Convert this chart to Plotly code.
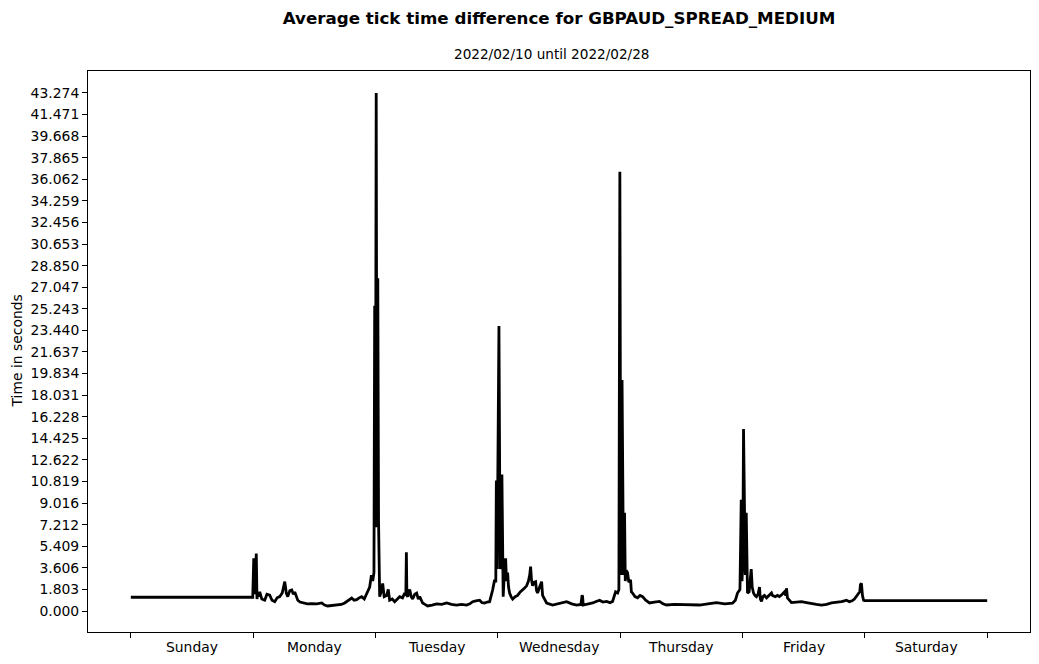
import plotly.graph_objects as go

# Hours since start of week (Sunday 00:00) and average tick time difference (seconds)
hours = [
    0.0, 23.92,
    24.0, 24.12, 24.22, 24.4, 24.61, 24.75, 24.90, 25.1, 25.29, 25.7, 26.27, 26.7, 27.25, 27.7,
    28.24, 28.7, 29.22, 29.7, 30.20, 30.5, 30.78, 31.2, 31.57, 31.9, 32.16, 32.75, 33.2, 33.73,
    34.6, 35.49, 36.5, 37.45, 38.0, 38.63, 39.6, 40.59, 41.3, 41.96, 42.7, 43.33, 43.8, 44.31,
    44.8, 45.29, 45.8, 46.27, 46.86, 47.2, 47.45, 47.7,
    47.84, 47.98, 48.14, 48.29, 48.45, 48.60, 48.69, 48.82,
    49.1, 49.41, 49.7, 50.20, 50.5, 50.78, 51.3, 51.76, 52.3, 52.75, 53.3, 53.73, 53.95, 54.06,
    54.16, 54.31, 54.71, 55.0, 55.29, 55.7, 56.08, 56.4, 56.67, 57.25, 57.7, 58.24, 59.1, 60.0,
    61.0, 61.96, 62.9, 63.92, 64.9, 65.88, 66.5, 67.06, 67.7, 68.43, 68.9, 69.41, 69.9, 70.39,
    70.98, 71.37,
    71.6, 71.71, 71.86, 72.22, 72.45, 72.62, 72.80, 72.95, 73.05, 73.2, 73.33, 73.43, 73.53,
    73.7, 73.92, 74.1, 74.31, 74.6, 74.90, 75.4, 75.88, 76.4, 76.86, 77.2, 77.65, 78.0, 78.25,
    78.43, 78.6, 78.82, 79.1, 79.41, 79.6, 79.80, 80.2, 80.59, 80.78, 81.2, 81.57, 82.75, 84.0,
    85.49, 86.5, 87.45, 88.3, 88.53, 88.63, 88.75, 89.6, 90.59, 91.3, 91.96, 92.6, 93.33, 94.0,
    94.51, 95.10, 95.5, 95.75,
    95.94, 96.10, 96.20, 96.37, 96.52, 96.65, 96.86, 97.0, 97.2, 97.45, 97.7, 98.04, 98.2, 98.43,
    98.9, 99.41, 99.9, 100.39, 101.0, 101.76, 102.7, 103.73, 104.4, 105.1, 106.6, 108.24, 110.0,
    111.57, 113.2, 114.9, 116.5, 118.04, 118.6, 119.02, 119.5,
    119.75, 119.9, 120.05, 120.20, 120.40, 120.55, 120.73, 120.85, 120.98, 121.3, 121.71, 121.9,
    122.16, 122.45, 122.75, 123.05, 123.33, 123.5, 123.73, 124.0, 124.31, 124.71, 125.2, 125.69,
    125.88, 126.4, 126.86, 127.25, 127.8, 128.24, 128.5, 128.63, 128.82, 129.2, 129.61, 130.6,
    131.57, 132.55, 133.53, 134.5, 135.49, 136.5, 137.45, 138.4, 139.41, 140.0, 140.39, 140.98,
    141.5, 141.96, 142.55, 143.0, 143.14, 143.33, 143.53, 143.75,
    143.92, 168.0,
]
seconds = [
    1.15, 1.15,
    2.5, 4.4, 1.4, 2.2, 4.8, 1.0, 1.6, 1.2, 1.6, 1.0, 0.9, 1.4, 1.33, 0.9,
    0.78, 1.1, 1.2, 1.5, 2.45, 1.5, 1.2, 1.7, 1.75, 1.4, 1.6, 0.9, 0.75, 0.67,
    0.6, 0.62, 0.6, 0.67, 0.5, 0.42, 0.45, 0.5, 0.55, 0.67, 0.9, 1.08, 0.9, 0.95,
    1.1, 1.2, 1.0, 1.5, 2.0, 3.0, 2.5, 3.2,
    25.5, 7.0, 43.274, 7.0, 27.8, 7.5, 1.5, 1.2,
    1.6, 2.3, 1.2, 1.3, 1.8, 0.9, 1.0, 0.78, 1.0, 1.2, 1.1, 1.5, 1.3, 4.9,
    1.3, 1.2, 1.8, 1.2, 1.0, 1.4, 1.5, 1.0, 1.2, 0.67, 0.55, 0.42, 0.5, 0.6,
    0.55, 0.67, 0.55, 0.5, 0.55, 0.5, 0.6, 0.78, 0.85, 0.9, 0.7, 0.67, 0.75, 0.78,
    1.75, 2.6,
    2.4, 10.9, 3.5, 23.8, 3.5, 5.0, 11.4, 2.0, 1.2, 2.5, 3.5, 2.5, 4.4,
    2.5, 3.2, 2.0, 1.5, 1.2, 1.0, 1.2, 1.3, 1.6, 1.75, 1.9, 2.1, 2.5, 3.0,
    3.7, 2.6, 2.1, 2.4, 2.45, 1.7, 1.5, 2.0, 2.45, 1.3, 0.9, 0.67, 0.5, 0.6,
    0.78, 0.6, 0.5, 0.55, 1.33, 1.2, 0.5, 0.55, 0.67, 0.8, 0.9, 0.75, 0.8, 0.7,
    0.8, 1.6, 1.5, 1.8,
    36.7, 6.5, 3.0, 19.3, 6.0, 3.0, 8.2, 2.5, 3.4, 3.2, 2.4, 2.6, 1.6, 1.5,
    1.2, 1.1, 1.3, 1.2, 0.9, 0.67, 0.75, 0.8, 0.6, 0.5, 0.55, 0.55, 0.5,
    0.5, 0.6, 0.7, 0.6, 0.65, 0.9, 1.5, 1.8,
    9.3, 2.5, 4.0, 15.2, 4.0, 3.0, 8.2, 2.0, 1.5, 1.6, 3.5, 2.0,
    1.5, 1.3, 1.2, 1.4, 2.0, 1.0, 0.8, 1.2, 1.3, 1.1, 1.3, 1.5,
    1.3, 1.2, 1.3, 1.2, 1.4, 1.6, 1.3, 1.9, 1.1, 0.9, 0.7, 0.75,
    0.78, 0.7, 0.6, 0.55, 0.5, 0.55, 0.67, 0.7, 0.78, 0.85, 0.9, 0.78,
    0.85, 1.0, 1.3, 1.6, 2.2, 2.3, 1.3, 0.9,
    0.87, 0.87,
]

day_names = ["Sunday", "Monday", "Tuesday", "Wednesday", "Thursday", "Friday", "Saturday"]
day_bounds = [0, 24, 48, 72, 96, 120, 144, 168]
day_centers = [12, 36, 60, 84, 108, 132, 156]
y_ticks = [0.000, 1.803, 3.606, 5.409, 7.212, 9.016, 10.819, 12.622, 14.425, 16.228,
           18.031, 19.834, 21.637, 23.440, 25.243, 27.047, 28.850, 30.653, 32.456,
           34.259, 36.062, 37.865, 39.668, 41.471, 43.274]

title_text = "Average tick time difference for GBPAUD_SPREAD_MEDIUM"
subtitle_text = "2022/02/10 until 2022/02/28"

FONT = "DejaVu Sans"

fig = go.Figure()
fig.add_trace(go.Scatter(
    x=hours, y=seconds, mode="lines",
    line=dict(color="black", width=2.8),
    showlegend=False, hoverinfo="skip",
))

fig.update_layout(
    width=1039, height=664,
    margin=dict(l=88, r=9, t=71, b=32),
    paper_bgcolor="white", plot_bgcolor="white",
    font=dict(family=FONT, size=13.9, color="black"),
    title=dict(text="<b>" + title_text + "</b>", x=0.5, xref="paper",
               y=1 - 18 / 664, yref="container", yanchor="middle",
               font=dict(family=FONT, size=16.7, color="black")),
    xaxis=dict(
        range=[-8.4, 176.4], tickmode="array", tickvals=day_bounds,
        ticktext=[""] * len(day_bounds), ticks="outside", ticklen=5, tickwidth=1,
        tickcolor="black", showgrid=False, zeroline=False,
        showline=True, linecolor="black", linewidth=1, mirror=True,
    ),
    yaxis=dict(
        range=[-1.754, 45.11], tickmode="array", tickvals=y_ticks,
        ticktext=["%.3f" % v for v in y_ticks], ticks="outside", ticklen=5,
        tickwidth=1, tickcolor="black", showgrid=False, zeroline=False,
        showline=True, linecolor="black", linewidth=1, mirror=True,
        tickfont=dict(family=FONT, size=13.9, color="black"),
    ),
)

annotations = []
for name, c in zip(day_names, day_centers):
    annotations.append(dict(text=name, x=c, xref="x", y=0, yref="paper",
                            yshift=-15, yanchor="middle", xanchor="center",
                            showarrow=False, font=dict(family=FONT, size=13.9, color="black")))
annotations.append(dict(text=subtitle_text, x=(551 - 88) / 942, xref="paper", y=1, yref="paper",
                        yshift=17, yanchor="middle", xanchor="center", showarrow=False,
                        font=dict(family=FONT, size=13.6, color="black")))
annotations.append(dict(text="Time in seconds", x=-(88 - 16) / 942, xref="paper",
                        y=0.5, yref="paper", textangle=-90, xanchor="center",
                        yanchor="middle", showarrow=False,
                        font=dict(family=FONT, size=13.9, color="black")))
fig.update_layout(annotations=annotations)

fig.write_html("out.html")
